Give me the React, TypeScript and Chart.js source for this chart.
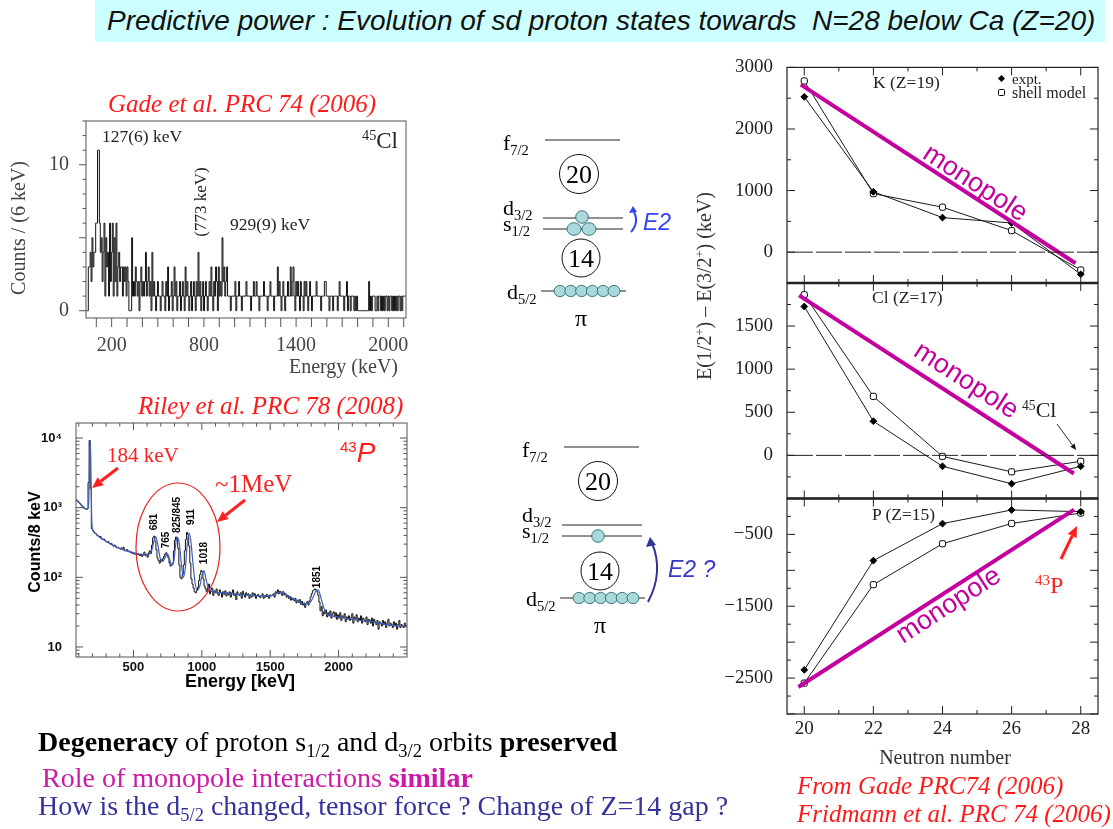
import React, { useEffect, useRef } from "react";
import { Chart, registerables } from "chart.js";

Chart.register(...registerables);

const SERIF = '"Liberation Serif", "Times New Roman", serif';
const SANS = '"Liberation Sans", Arial, sans-serif';

// ---------- E(1/2+) - E(3/2+) in keV versus neutron number ----------
const neutronNumbers = [20, 22, 24, 26, 28];
const kExpt = [2522, 980, 561, 474, -360];
const kShell = [2780, 950, 730, 350, -290];
const clExpt = [1726, 396, -127, -329, -127];
const clShell = [1863, 684, -12, -191, -69];
const pExpt = [-2386, -865, -350, -160, -184];
const pShell = [-2570, -1200, -630, -348, -203];

// monopole trend lines: [N, keV] end points
const kMonopole = [[19.9, 2720], [27.85, -180]];
const clMonopole = [[19.85, 1855], [27.8, -211]];
const pMonopole = [[19.83, -2624], [27.81, -155]];

const neutronTickLabels = [20, 22, 24, 26, 28];
const kTickLabels = [0, 1000, 2000, 3000];
const clTickLabels = [0, 500, 1000, 1500];
const pTickLabels = [-2500, -1500, -500];

// ---------- 45Cl gamma spectrum, counts per 6 keV ----------
const gadeBinStart = 36;
const gadeBinWidth = 6;
const gadeCounts = [
  0, 0,
  0, 3, 3, 4, 2, 5, 3, 4, 4, 6,
  6, 11, 11, 6, 4, 5, 2, 4, 6, 1,
  5, 3, 4, 1, 6, 2, 4, 6, 1, 5,
  2, 6, 1, 3, 4, 2, 3, 3, 1, 3,
  2, 3, 1, 3, 2, 0, 0, 0, 5, 1,
  2, 1, 3, 2, 1, 2, 0, 2, 3, 1,
  2, 1, 2, 4, 1, 2, 3, 1, 2, 0,
  4, 1, 2, 1, 0, 1, 2, 1, 1, 0,
  1, 2, 1, 1, 0, 2, 1, 3, 0, 1,
  1, 2, 0, 1, 3, 1, 2, 0, 1, 1,
  2, 0, 1, 2, 1, 0, 3, 1, 2, 1,
  0, 1, 2, 0, 1, 2, 1, 0, 2, 1,
  4, 1, 2, 0, 1, 2, 0, 1, 2, 1,
  0, 1, 2, 1, 3, 1, 0, 2, 1, 3,
  2, 0, 3, 1, 2, 1, 5, 2, 3, 1,
  2, 3, 1, 1, 1, 0, 1, 1, 1, 1,
  2, 0, 1, 1, 2, 1, 1, 0, 1, 1,
  1, 1, 2, 1, 1, 1, 1, 0, 1, 1,
  2, 1, 1, 2, 1, 1, 0, 1, 1, 1,
  1, 2, 1, 1, 1, 0, 1, 1, 2, 1,
  1, 1, 0, 1, 1, 1, 3, 1, 2, 1,
  0, 1, 2, 1, 0, 1, 1, 2, 1, 1,
  3, 1, 2, 3, 1, 0, 2, 1, 2, 1,
  0, 2, 1, 1, 0, 2, 1, 2, 1, 0,
  1, 2, 1, 0, 1, 1, 1, 1, 2, 1,
  1, 1, 1, 0, 1, 1, 1, 2, 2, 1,
  1, 1, 0, 1, 1, 1, 0, 1, 1, 1,
  1, 0, 1, 2, 1, 1, 1, 1, 0, 1,
  1, 2, 0, 1, 1, 0, 1, 1, 1, 0,
  1, 0, 1, 0, 0, 0, 0, 0, 0, 0,
  0, 0, 0, 0, 0, 2, 0, 1, 0, 1,
  1, 1, 0, 0, 1, 0, 1, 1, 0, 1,
  0, 1, 0, 1, 1, 0, 1, 0, 1, 1,
  0, 1, 0, 1, 0, 1, 0, 1, 1, 0,
  1, 0, 1, 1,
];
const gadeEnergyTicks = [200, 800, 1400, 2000];
const gadeCountTicks = [0, 10];

// ---------- 43P gamma spectrum, counts per 8 keV ----------
const rileyBinStart = 80;
const rileyBinWidth = 8;
const rileyCounts = [
  1320, 1280, 1250, 1190, 1150, 1100, 1060, 1020, 980, 960,
  950, 960, 2300, 9200, 1900, 500, 470, 450, 430, 420,
  400, 390, 380, 385, 360, 350, 355, 340, 330, 320,
  325, 310, 300, 305, 290, 280, 290, 275, 265, 270,
  260, 255, 265, 250, 270, 240, 245, 250, 235, 240,
  228, 232, 220, 225, 215, 222, 210, 218, 212, 205,
  215, 200, 210, 230, 205, 215, 195, 225, 240, 220,
  290, 370, 390, 330, 250, 190, 175, 160, 180, 170,
  185, 200, 215, 225, 205, 190, 160, 145, 150, 160,
  240, 340, 380, 360, 260, 150, 100, 95, 110, 150,
  240, 350, 440, 410, 280, 160, 95, 80, 70, 62,
  60, 65, 72, 90, 110, 125, 120, 95, 75, 68,
  62, 72, 80, 58, 66, 70, 55, 64, 60, 68,
  58, 55, 66, 60, 52, 62, 57, 64, 54, 60,
  56, 62, 52, 60, 66, 55, 58, 48, 62, 57,
  55, 60, 50, 63, 57, 52, 60, 55, 58, 50,
  56, 52, 60, 54, 58, 50, 55, 57, 53, 51,
  54, 58, 50, 55, 52, 57, 53, 50, 56, 54,
  55, 58, 52, 62, 60, 66, 58, 63, 59, 55,
  62, 56, 58, 52, 55, 50, 53, 47, 50, 48,
  46, 50, 43, 47, 44, 48, 41, 45, 40, 43,
  37, 42, 45, 40, 46, 52, 58, 64, 66, 68,
  66, 62, 55, 44, 33, 38, 28, 32, 30, 34,
  27, 31, 28, 33, 26, 30, 32, 27, 31, 25,
  29, 26, 31, 24, 28, 26, 30, 23, 27, 25,
  28, 24, 26, 30, 22, 27, 25, 29, 23, 26,
  24, 28, 22, 26, 25, 23, 27, 21, 25, 24,
  22, 26, 20, 25, 23, 21, 24, 18, 23, 22,
  20, 24, 21, 23, 19, 22, 25, 20, 22, 21,
  19, 23, 20, 22, 18, 21, 24, 19, 21, 20,
  19, 22, 20,
];
// fitted response (keV, counts)
const rileyFitEnergy = [
  80, 100, 120, 140, 160, 170, 176, 180, 184, 188, 192, 196, 204, 220, 250, 300, 350, 400, 450, 500,
  550, 600, 630, 650, 662, 675, 695, 715, 735, 748, 762, 780, 795, 812, 822, 835, 850, 865, 880, 895,
  908, 920, 935, 950, 965, 985, 1005, 1015, 1030, 1050, 1080, 1150, 1250, 1350, 1450, 1520, 1560, 1590,
  1620, 1680, 1740, 1780, 1810, 1835, 1850, 1865, 1885, 1910, 1950, 2050, 2150, 2250, 2350, 2450, 2500,
];
const rileyFitCounts = [
  1320, 1200, 1100, 1000, 950, 1000, 2000, 6000, 9000, 5000, 1500, 600, 470, 430, 380, 330, 290, 260, 240, 225,
  215, 210, 230, 330, 385, 320, 190, 170, 200, 220, 190, 150, 170, 330, 375, 310, 160, 100, 140, 330,
  430, 330, 160, 85, 65, 75, 115, 125, 95, 68, 62, 60, 57, 55, 54, 55, 60, 62,
  56, 48, 42, 42, 50, 64, 66, 56, 40, 30, 28, 26, 24, 23, 21, 20, 19.5,
];
const rileyEnergyTicks = [500, 1000, 1500, 2000];
const rileyCountTicks = [10, 100, 1000, 10000];
const rileyCountLabels = ["10", "10\u00B2", "10\u00B3", "10\u2074"];

// ---------- helpers ----------
const fixedTicks = (values: number[]) => (scale: any) => {
  scale.ticks = values.map((v) => ({ value: v }));
};
const plainLabel = (v: number) => (v < 0 ? `\u2212${-v}` : String(v));

const histogram = (start: number, width: number, counts: number[]) => {
  const pts = counts.map((c, i) => ({ x: start + i * width, y: c }));
  pts.push({ x: start + counts.length * width, y: counts[counts.length - 1] });
  return pts;
};

const line = (ctx: CanvasRenderingContext2D, x1: number, y1: number, x2: number, y2: number) => {
  ctx.beginPath();
  ctx.moveTo(x1, y1);
  ctx.lineTo(x2, y2);
  ctx.stroke();
};

// frames, inward ticks and zero lines of the three stacked panels
const panelFramePlugin = {
  id: "panelFrames",
  afterDraw(chart: any) {
    const ctx = chart.ctx;
    const xs = chart.scales.x;
    const left = xs.left;
    const right = xs.right;
    const panels = [
      { id: "yK", major: 1000, minor: 500 },
      { id: "yCl", major: 500, minor: 250 },
      { id: "yP", major: 500, minor: 250 },
    ];
    ctx.save();
    ctx.strokeStyle = "#222";
    for (const p of panels) {
      const s = chart.scales[p.id];
      const top = s.top;
      const bottom = s.bottom;
      ctx.lineWidth = 1.2;
      ctx.setLineDash([]);
      ctx.strokeRect(left, top, right - left, bottom - top);
      ctx.lineWidth = 1;
      for (let v = Math.ceil(s.min / p.minor) * p.minor; v <= s.max; v += p.minor) {
        const y = s.getPixelForValue(v);
        const len = v % p.major === 0 ? 8 : 4;
        line(ctx, left, y, left + len, y);
        line(ctx, right, y, right - len, y);
      }
      for (let n = 20; n <= 28; n++) {
        const x = xs.getPixelForValue(n);
        const len = n % 2 === 0 ? 8 : 4;
        line(ctx, x, bottom, x, bottom - len);
        line(ctx, x, top, x, top + len);
      }
      if (s.min < 0 && s.max > 0) {
        const y0 = s.getPixelForValue(0);
        ctx.setLineDash([26, 3]);
        line(ctx, left, y0, right, y0);
        ctx.setLineDash([]);
      }
    }
    ctx.lineWidth = 2.4;
    line(ctx, left, chart.scales.yK.bottom, right, chart.scales.yK.bottom);
    line(ctx, left, chart.scales.yCl.bottom, right, chart.scales.yCl.bottom);
    ctx.restore();

    // "monopole" captions along the trend lines
    const captions = [
      { id: "yK", pts: kMonopole, t: 0.61, off: -12 },
      { id: "yCl", pts: clMonopole, t: 0.57, off: -19 },
      { id: "yP", pts: pMonopole, t: 0.52, off: 13 },
    ];
    ctx.save();
    ctx.fillStyle = "#c4009f";
    ctx.font = `27px ${SANS}`;
    ctx.textAlign = "center";
    ctx.textBaseline = "middle";
    for (const c of captions) {
      const s = chart.scales[c.id];
      const x0 = xs.getPixelForValue(c.pts[0][0]);
      const y0 = s.getPixelForValue(c.pts[0][1]);
      const x1 = xs.getPixelForValue(c.pts[1][0]);
      const y1 = s.getPixelForValue(c.pts[1][1]);
      const ang = Math.atan2(y1 - y0, x1 - x0);
      const cx = x0 + (x1 - x0) * c.t - Math.sin(ang) * c.off;
      const cy = y0 + (y1 - y0) * c.t + Math.cos(ang) * c.off;
      ctx.save();
      ctx.translate(cx, cy);
      ctx.rotate(ang);
      ctx.fillText("monopole", 0, 0);
      ctx.restore();
    }
    ctx.restore();
  },
};

const gadeFramePlugin = {
  id: "gadeFrame",
  afterDraw(chart: any) {
    const ctx = chart.ctx;
    const { left, right, top, bottom } = chart.chartArea;
    const xs = chart.scales.x;
    const ys = chart.scales.y;
    ctx.save();
    ctx.strokeStyle = "#555";
    ctx.lineWidth = 1;
    ctx.strokeRect(left, top, right - left, bottom - top);
    for (let e = 100; e <= 2100; e += 100) {
      const x = xs.getPixelForValue(e);
      line(ctx, x, bottom, x, bottom + 9);
    }
    for (let c = 0; c <= 13; c++) {
      const y = ys.getPixelForValue(c);
      const len = c % 5 === 0 ? 7 : 3.5;
      line(ctx, left, y, left - len, y);
    }
    ctx.restore();
  },
};

const rileyFramePlugin = {
  id: "rileyFrame",
  afterDraw(chart: any) {
    const ctx = chart.ctx;
    const { left, right, top, bottom } = chart.chartArea;
    const xs = chart.scales.x;
    const ys = chart.scales.y;
    ctx.save();
    ctx.strokeStyle = "#555";
    ctx.lineWidth = 1;
    ctx.strokeRect(left, top, right - left, bottom - top);
    for (let e = 100; e < 2500; e += 100) {
      const x = xs.getPixelForValue(e);
      const len = e % 500 === 0 ? 7 : 3.5;
      line(ctx, x, bottom, x, bottom - len);
      line(ctx, x, top, x, top + len);
    }
    for (let d = 1; d <= 10000; d *= 10) {
      for (let m = 1; m <= 9; m++) {
        const v = d * m;
        if (v < ys.min || v > ys.max) continue;
        const y = ys.getPixelForValue(v);
        const len = m === 1 ? 7 : 3.5;
        line(ctx, left, y, left + len, y);
        line(ctx, right, y, right - len, y);
      }
    }
    ctx.restore();
  },
};

// ---------- chart configurations ----------
const panelAxis = (min: number, max: number, labels: number[], weight: number) => ({
  type: "linear",
  position: "left",
  stack: "panels",
  stackWeight: 1,
  weight,
  min,
  max,
  grid: { display: false },
  border: { display: false },
  afterBuildTicks: fixedTicks(labels),
  afterFit: (s: any) => {
    s.width = 97;
  },
  ticks: {
    font: { family: SERIF, size: 19 },
    color: "#222",
    padding: 6,
    autoSkip: false,
    callback: plainLabel,
  },
});

const panelSets = (expt: number[], shell: number[], mono: number[][], axis: string) => [
  {
    data: mono.map(([x, y]) => ({ x, y })),
    yAxisID: axis,
    borderColor: "#c4009f",
    borderWidth: 4,
    pointRadius: 0,
    order: 0,
  },
  {
    data: neutronNumbers.map((n, i) => ({ x: n, y: expt[i] })),
    yAxisID: axis,
    borderColor: "#1a1a1a",
    borderWidth: 1,
    pointStyle: "rectRot",
    pointRadius: 3.4,
    pointBackgroundColor: "#000",
    pointBorderColor: "#000",
    order: 1,
  },
  {
    data: neutronNumbers.map((n, i) => ({ x: n, y: shell[i] })),
    yAxisID: axis,
    borderColor: "#1a1a1a",
    borderWidth: 1,
    pointStyle: "rectRounded",
    pointRadius: 3.6,
    pointBackgroundColor: "#fff",
    pointBorderColor: "#000",
    pointBorderWidth: 1,
    order: 1,
  },
];

const makePanels = (): any => ({
  type: "line",
  data: {
    datasets: [
      ...panelSets(kExpt, kShell, kMonopole, "yK"),
      ...panelSets(clExpt, clShell, clMonopole, "yCl"),
      ...panelSets(pExpt, pShell, pMonopole, "yP"),
    ],
  },
  options: {
    responsive: false,
    animation: false,
    devicePixelRatio: 1,
    layout: { padding: { left: 0, top: 12, right: 15, bottom: 0 } },
    plugins: { legend: { display: false }, tooltip: { enabled: false } },
    scales: {
      x: {
        type: "linear",
        min: 19.5,
        max: 28.5,
        grid: { display: false },
        border: { display: false },
        afterBuildTicks: fixedTicks(neutronTickLabels),
        afterFit: (s: any) => {
          s.height = 61;
        },
        ticks: {
          font: { family: SERIF, size: 19 },
          color: "#222",
          padding: -4,
          maxRotation: 0,
          autoSkip: false,
          callback: plainLabel,
        },
      },
      yK: panelAxis(-500, 3000, kTickLabels, 3),
      yCl: panelAxis(-500, 2000, clTickLabels, 2),
      yP: panelAxis(-3000, 0, pTickLabels, 1),
    },
  },
  plugins: [panelFramePlugin],
});

const makeGade = (): any => ({
  type: "line",
  data: {
    datasets: [
      {
        data: histogram(gadeBinStart, gadeBinWidth, gadeCounts),
        stepped: "after",
        borderColor: "#111",
        borderWidth: 1,
        pointRadius: 0,
      },
    ],
  },
  options: {
    responsive: false,
    animation: false,
    devicePixelRatio: 1,
    layout: { padding: { left: 0, top: 21, right: 14, bottom: 0 } },
    plugins: { legend: { display: false }, tooltip: { enabled: false } },
    scales: {
      x: {
        type: "linear",
        min: 33,
        max: 2115,
        grid: { display: false },
        border: { display: false },
        afterBuildTicks: fixedTicks(gadeEnergyTicks),
        afterFit: (s: any) => {
          s.height = 62;
        },
        ticks: {
          font: { family: SERIF, size: 20 },
          color: "#444",
          padding: 8,
          maxRotation: 0,
          autoSkip: false,
          callback: plainLabel,
        },
      },
      y: {
        type: "linear",
        min: -0.5,
        max: 13,
        grid: { display: false },
        border: { display: false },
        afterBuildTicks: fixedTicks(gadeCountTicks),
        afterFit: (s: any) => {
          s.width = 86;
        },
        ticks: {
          font: { family: SERIF, size: 20 },
          color: "#444",
          padding: 9,
          autoSkip: false,
          callback: plainLabel,
        },
      },
    },
  },
  plugins: [gadeFramePlugin],
});

const makeRiley = (): any => ({
  type: "line",
  data: {
    datasets: [
      {
        data: rileyFitEnergy.map((e, i) => ({ x: e, y: rileyFitCounts[i] })),
        borderColor: "#3f5fc0",
        borderWidth: 1.2,
        pointRadius: 0,
        cubicInterpolationMode: "monotone",
        order: 0,
      },
      {
        data: histogram(rileyBinStart, rileyBinWidth, rileyCounts),
        stepped: "after",
        borderColor: "#111",
        borderWidth: 1,
        pointRadius: 0,
        order: 1,
      },
    ],
  },
  options: {
    responsive: false,
    animation: false,
    devicePixelRatio: 1,
    layout: { padding: { left: 0, top: 23, right: 13, bottom: 0 } },
    plugins: { legend: { display: false }, tooltip: { enabled: false } },
    scales: {
      x: {
        type: "linear",
        min: 80,
        max: 2500,
        grid: { display: false },
        border: { display: false },
        afterBuildTicks: fixedTicks(rileyEnergyTicks),
        afterFit: (s: any) => {
          s.height = 33;
        },
        ticks: {
          font: { family: SANS, size: 13, weight: "bold" },
          color: "#111",
          padding: -5,
          maxRotation: 0,
          autoSkip: false,
          callback: plainLabel,
        },
      },
      y: {
        type: "logarithmic",
        min: 7.18,
        max: 16440,
        grid: { display: false },
        border: { display: false },
        afterBuildTicks: fixedTicks(rileyCountTicks),
        afterFit: (s: any) => {
          s.width = 76;
        },
        ticks: {
          font: { family: SANS, size: 13, weight: "bold" },
          color: "#111",
          padding: 6,
          autoSkip: false,
          callback: (v: number) => rileyCountLabels[rileyCountTicks.indexOf(v)] ?? "",
        },
      },
    },
  },
  plugins: [rileyFramePlugin],
});

// ---------- components ----------
function ChartBox({ left, top, width, height, make }: any) {
  const ref = useRef<HTMLCanvasElement>(null);
  useEffect(() => {
    const chart = new Chart(ref.current as HTMLCanvasElement, make());
    return () => chart.destroy();
  }, []);
  return (
    <div style={{ position: "absolute", left, top, width, height }}>
      <canvas ref={ref} width={width} height={height} style={{ width, height, display: "block" }} />
    </div>
  );
}

function Txt({ x, y, size, family = SERIF, color = "#000", italic, bold, anchor = "start", rotate, children }: any) {
  const tx = anchor === "middle" ? "-50%" : anchor === "end" ? "-100%" : "0";
  return (
    <div
      style={{
        position: "absolute",
        left: x,
        top: y,
        fontFamily: family,
        fontSize: size,
        color,
        fontStyle: italic ? "italic" : "normal",
        fontWeight: bold ? "bold" : "normal",
        lineHeight: 1,
        whiteSpace: "pre",
        transform: `translate(${tx}, -50%)${rotate ? ` rotate(${rotate}deg)` : ""}`,
      }}
    >
      {children}
    </div>
  );
}

const Sub = ({ children }: any) => (
  <span style={{ fontSize: "0.66em", verticalAlign: "-0.32em", lineHeight: 0 }}>{children}</span>
);
const Sup = ({ children }: any) => (
  <span style={{ fontSize: "0.62em", verticalAlign: "0.55em", lineHeight: 0 }}>{children}</span>
);

function Arrow({ x1, y1, x2, y2, color, width, head }: any) {
  const a = Math.atan2(y2 - y1, x2 - x1);
  const hx = x2 - head * Math.cos(a);
  const hy = y2 - head * Math.sin(a);
  const w = head * 0.45;
  const p1 = `${hx + w * Math.sin(a)},${hy - w * Math.cos(a)}`;
  const p2 = `${hx - w * Math.sin(a)},${hy + w * Math.cos(a)}`;
  return (
    <g>
      <line x1={x1} y1={y1} x2={hx} y2={hy} stroke={color} strokeWidth={width} />
      <polygon points={`${x2},${y2} ${p1} ${p2}`} fill={color} />
    </g>
  );
}

const BALL_FILL = "#a9d9da";
const BALL_EDGE = "#2d6a74";

// single-particle proton levels of the sd shell
function LevelShapes({ dx, dy, topBalls, gapShift }: any) {
  const X = (v: number) => v + dx;
  const Y = (v: number) => v + dy;
  const balls = [0, 1, 2, 3, 4, 5].map((k) => X(560 + k * 10.8));
  return (
    <g>
      <line x1={X(545)} y1={Y(140)} x2={X(620)} y2={Y(140)} stroke="#222" strokeWidth={1} />
      <circle cx={X(579)} cy={Y(174)} r={19.5} fill="none" stroke="#111" strokeWidth={1} />
      <line x1={X(543)} y1={Y(218)} x2={X(623)} y2={Y(218)} stroke="#222" strokeWidth={1} />
      <line x1={X(543)} y1={Y(229)} x2={X(623)} y2={Y(229)} stroke="#222" strokeWidth={1} />
      <circle cx={X(581)} cy={Y(258 + gapShift)} r={19} fill="none" stroke="#111" strokeWidth={1} />
      <line x1={X(541)} y1={Y(291)} x2={X(626)} y2={Y(291)} stroke="#222" strokeWidth={1} />
      {balls.map((bx, i) => (
        <ellipse key={i} cx={bx} cy={Y(291)} rx={6} ry={5.6} fill={BALL_FILL} stroke={BALL_EDGE} strokeWidth={0.9} />
      ))}
      {topBalls ? (
        <g>
          <ellipse cx={X(582)} cy={Y(217)} rx={6.3} ry={6.3} fill={BALL_FILL} stroke={BALL_EDGE} strokeWidth={0.9} />
          <ellipse cx={X(574)} cy={Y(229)} rx={7} ry={6.3} fill={BALL_FILL} stroke={BALL_EDGE} strokeWidth={0.9} />
          <ellipse cx={X(589)} cy={Y(229)} rx={7} ry={6.3} fill={BALL_FILL} stroke={BALL_EDGE} strokeWidth={0.9} />
        </g>
      ) : (
        <ellipse cx={X(579)} cy={Y(229)} rx={6.3} ry={6.3} fill={BALL_FILL} stroke={BALL_EDGE} strokeWidth={0.9} />
      )}
    </g>
  );
}

function LevelTexts({ dx, dy, gapShift }: any) {
  return (
    <>
      <Txt x={503 + dx} y={143 + dy} size={22}>
        f<Sub>7/2</Sub>
      </Txt>
      <Txt x={579 + dx} y={175 + dy} size={26} anchor="middle">
        20
      </Txt>
      <Txt x={503 + dx} y={208 + dy} size={22}>
        d<Sub>3/2</Sub>
      </Txt>
      <Txt x={503 + dx} y={224 + dy} size={22}>
        s<Sub>1/2</Sub>
      </Txt>
      <Txt x={581 + dx} y={259 + dy + gapShift} size={26} anchor="middle">
        14
      </Txt>
      <Txt x={507 + dx} y={292 + dy} size={22}>
        d<Sub>5/2</Sub>
      </Txt>
      <Txt x={581 + dx} y={318 + dy} size={24} anchor="middle">
        π
      </Txt>
    </>
  );
}

export default function App() {
  return (
    <div
      style={{
        position: "absolute",
        left: 0,
        top: 0,
        width: 1113,
        height: 829,
        overflow: "hidden",
        background: "#fff",
      }}
    >
      {/* title bar */}
      <div style={{ position: "absolute", left: 95, top: 0, width: 1010, height: 42, background: "#ccffff" }} />
      <Txt x={107} y={21} size={28} family={SANS} italic color="#111">
        {"Predictive power : Evolution of sd proton states towards  N=28 below Ca (Z=20)"}
      </Txt>

      {/* charts */}
      <ChartBox left={0} top={100} width={420} height={280} make={makeGade} />
      <ChartBox left={0} top={400} width={420} height={290} make={makeRiley} />
      <ChartBox left={690} top={50} width={423} height={725} make={makePanels} />

      {/* shapes: level schemes, arrows, ellipse */}
      <svg width={1113} height={829} style={{ position: "absolute", left: 0, top: 0, pointerEvents: "none" }}>
        <LevelShapes dx={0} dy={0} topBalls gapShift={0} />
        <LevelShapes dx={19} dy={307} topBalls={false} gapShift={6} />
        {/* E2 arrows */}
        <path d="M 631 232 Q 640 222 633 210" fill="none" stroke="#3344ee" strokeWidth={2} />
        <polygon points="633,206 629,213 637,212" fill="#3344ee" />
        <path d="M 648 602 Q 664 572 652 543" fill="none" stroke="#333399" strokeWidth={2} />
        <polygon points="650,537 646,547 656,545" fill="#333399" />
        {/* spectrum annotations */}
        <Arrow x1={118} y1={468} x2={92} y2={488} color="#ff2020" width={3} head={11} />
        <Arrow x1={245} y1={500} x2={217} y2={522} color="#ff2020" width={3} head={11} />
        <ellipse cx={178} cy={547} rx={42} ry={64} fill="none" stroke="#e82020" strokeWidth={1.2} />
        {/* panel annotations */}
        <Arrow x1={1061} y1={559} x2={1077} y2={526} color="#ff2020" width={3} head={11} />
        <Arrow x1={1057} y1={424} x2={1076} y2={450} color="#111" width={0.9} head={6} />
        {/* legend markers */}
        <rect x={999} y={76} width={5} height={5} transform="rotate(45 1001.5 78.5)" fill="#000" />
        <rect x={998.5} y={89.5} width={6} height={6} rx={1} fill="#fff" stroke="#000" strokeWidth={1} />
      </svg>

      <LevelTexts dx={0} dy={0} gapShift={0} />
      <LevelTexts dx={19} dy={307} gapShift={6} />
      <Txt x={643} y={222} size={23} family={SANS} italic color="#3344ee">
        E2
      </Txt>
      <Txt x={668} y={569} size={23} family={SANS} italic color="#3838c8">
        E2 ?
      </Txt>

      {/* 45Cl spectrum texts */}
      <Txt x={108} y={103} size={25} italic color="#ff1a1a">
        Gade et al. PRC 74 (2006)
      </Txt>
      <Txt x={102} y={137} size={17.5} color="#222">
        127(6) keV
      </Txt>
      <Txt x={398} y={140} size={23} anchor="end" color="#222">
        <Sup>45</Sup>Cl
      </Txt>
      <Txt x={200} y={202} size={17} anchor="middle" rotate={-90} color="#222">
        (773 keV)
      </Txt>
      <Txt x={230} y={225} size={17.5} color="#222">
        929(9) keV
      </Txt>
      <Txt x={18} y={228} size={20} anchor="middle" rotate={-90} color="#444">
        Counts / (6 keV)
      </Txt>
      <Txt x={398} y={366} size={20} anchor="end" color="#444">
        Energy (keV)
      </Txt>

      {/* 43P spectrum texts */}
      <Txt x={138} y={405} size={25} italic color="#ff1a1a">
        Riley et al. PRC 78 (2008)
      </Txt>
      <Txt x={107} y={455} size={21} color="#ff2020">
        184 keV
      </Txt>
      <Txt x={215} y={483} size={25} color="#ff2020">
        ~1MeV
      </Txt>
      <Txt x={340} y={453} size={28} family={SANS} italic color="#ff1a1a">
        <span style={{ fontSize: 15, fontStyle: "normal", verticalAlign: "0.7em", lineHeight: 0 }}>43</span>P
      </Txt>
      <Txt x={154} y={522} size={10} family={SANS} bold anchor="middle" rotate={-90}>
        681
      </Txt>
      <Txt x={166} y={540} size={10} family={SANS} bold anchor="middle" rotate={-90}>
        765
      </Txt>
      <Txt x={177} y={515} size={10} family={SANS} bold anchor="middle" rotate={-90}>
        825/845
      </Txt>
      <Txt x={191} y={517} size={10} family={SANS} bold anchor="middle" rotate={-90}>
        911
      </Txt>
      <Txt x={204} y={553} size={10} family={SANS} bold anchor="middle" rotate={-90}>
        1018
      </Txt>
      <Txt x={317} y={577} size={10} family={SANS} bold anchor="middle" rotate={-90}>
        1851
      </Txt>
      <Txt x={35} y={542} size={16} family={SANS} bold anchor="middle" rotate={-90}>
        Counts/8 keV
      </Txt>
      <Txt x={240} y={681} size={18} family={SANS} bold anchor="middle">
        Energy [keV]
      </Txt>

      {/* stacked panel texts */}
      <Txt x={704} y={286} size={20} anchor="middle" rotate={-90} color="#333">
        E(1/2<Sup>+</Sup>) – E(3/2<Sup>+</Sup>) (keV)
      </Txt>
      <Txt x={873} y={83} size={17.5} color="#222">
        K (Z=19)
      </Txt>
      <Txt x={1012} y={79} size={15} color="#222">
        expt.
      </Txt>
      <Txt x={1012} y={93} size={16} color="#222">
        shell model
      </Txt>
      <Txt x={872} y={298} size={17.5} color="#222">
        Cl (Z=17)
      </Txt>
      <Txt x={1022} y={410} size={22} color="#222">
        <Sup>45</Sup>Cl
      </Txt>
      <Txt x={872} y={515} size={17.5} color="#222">
        P (Z=15)
      </Txt>
      <Txt x={1035} y={585} size={24} color="#ff2020">
        <Sup>43</Sup>P
      </Txt>
      <Txt x={945} y={757} size={20} anchor="middle" color="#333">
        Neutron number
      </Txt>
      <Txt x={797} y={785} size={25} italic color="#ff1a1a">
        From Gade PRC74 (2006)
      </Txt>
      <Txt x={797} y={813} size={25} italic color="#ff1a1a">
        Fridmann et al. PRC 74 (2006)
      </Txt>

      {/* conclusions */}
      <Txt x={38} y={742} size={28} color="#000">
        <b>Degeneracy</b> of proton s<Sub>1/2</Sub> and d<Sub>3/2</Sub> orbits <b>preserved</b>
      </Txt>
      <Txt x={42} y={778} size={28} color="#cc1aa6">
        Role of monopole interactions <b>similar</b>
      </Txt>
      <Txt x={38} y={806} size={28} color="#333399">
        How is the d<Sub>5/2</Sub> changed, tensor force ? Change of Z=14 gap ?
      </Txt>
    </div>
  );
}
